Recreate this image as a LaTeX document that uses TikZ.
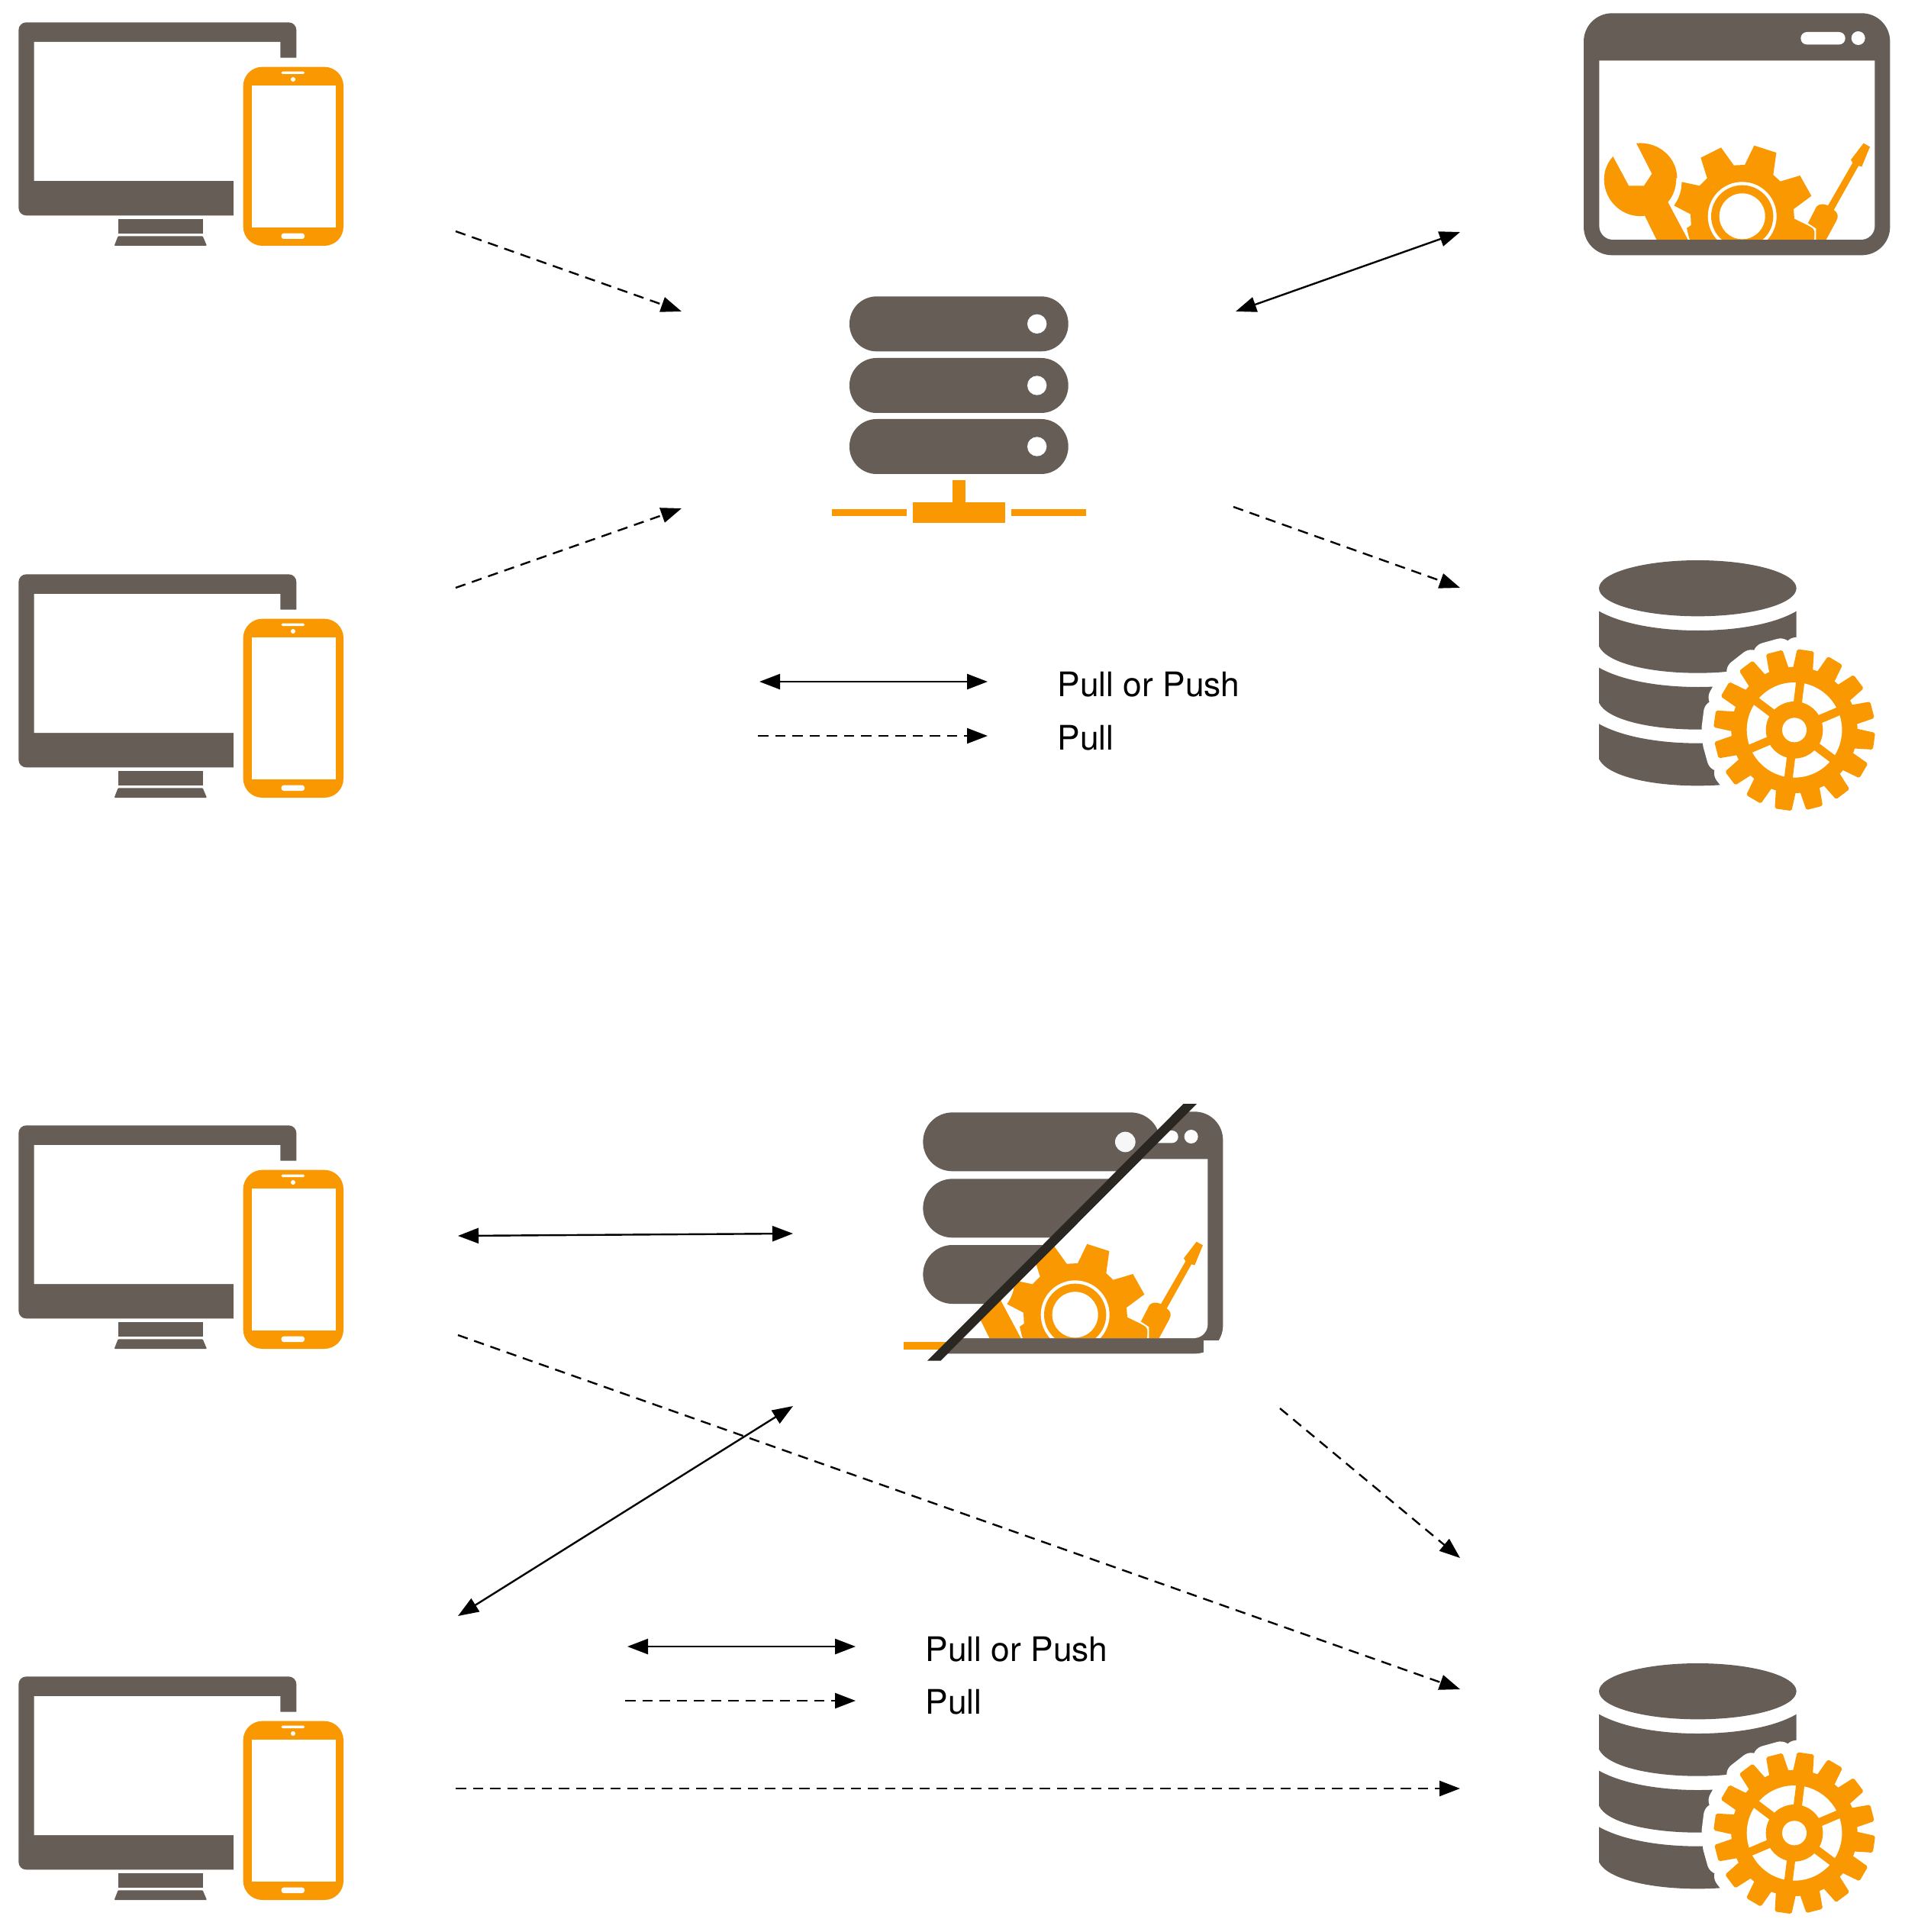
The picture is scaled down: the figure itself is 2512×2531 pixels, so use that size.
\documentclass[tikz,border=0pt]{standalone}
\usepackage{fontspec}
\setmainfont{TeX Gyre Heros}
\usetikzlibrary{arrows.meta}
\definecolor{stone}{HTML}{665E56}
\definecolor{amber}{HTML}{FA9802}
\definecolor{slash}{HTML}{2A2622}
\tikzset{
  x=0.01cm,y=-0.01cm,
  zoomed/.style={scale=0.33333},
  bothway/.style={line width=.024cm,black,{Triangle[length=.27cm,width=.2cm]}-{Triangle[length=.27cm,width=.2cm]}},
  oneway/.style={line width=.024cm,black,dash pattern=on .135cm off .09cm,-{Triangle[length=.27cm,width=.2cm]}},
  legend/.style={anchor=west,inner sep=0pt,font=\fontsize{12.6pt}{15pt}\selectfont},
  device/.pic={
    \begin{scope}[zoomed]
      \fill[stone,rounded corners=.1cm] (73,88) rectangle (1165,847);
      \fill[white] (134,165) -- (1102,165) -- (1102,227) -- (1175,227) -- (1175,855) -- (918,855) -- (918,711) -- (134,711) -- cycle;
      \fill[stone] (464,861) rectangle (797,919);
      \fill[stone,rounded corners=.01cm] (464,928) -- (797,928) -- (813,966) -- (449,966) -- cycle;
      \fill[amber,rounded corners=.25cm] (956,263) rectangle (1350,966);
      \fill[white] (990,337) rectangle (1319,893);
      \fill[white,rounded corners=.015cm] (1106,281) rectangle (1197,291);
      \fill[white] (1152,312) circle (9);
      \fill[white,rounded corners=.03cm] (1106,917) rectangle (1197,939);
    \end{scope}
  },
  server/.pic={
    \begin{scope}[zoomed]
      \foreach \t in {85,327,567}{
        \fill[stone,rounded corners=.355cm] (159,\t) rectangle (1019,\t+216);
        \fill[white] (896,\t+108) circle (38);
      }
      \fill[amber] (565,808) rectangle (615,895);
      \fill[amber] (407,895) rectangle (772,975);
      \fill[amber] (90,920) rectangle (383,947);
      \fill[amber] (795,920) rectangle (1088,947);
    \end{scope}
  },
  windowicon/.pic={
    \begin{scope}[zoomed]
      \fill[stone,rounded corners=.37cm] (105,52) rectangle (1309,1003);
      \fill[white] (166,238) -- (1249,238) -- (1249,888) arc[start angle=0,end angle=90,radius=54] -- (220,942) arc[start angle=90,end angle=180,radius=54] -- cycle;
      \begin{scope}
        \clip (166,238) rectangle (1249,941);
        % gear
        \fill[amber] (565,620) -- (645,580) -- (695,650) -- (738,648) -- (775,572) -- (862,600) -- (850,687) -- (878,713) -- (955,690) -- (1000,770) -- (930,822) -- (933,860) -- (1005,895) -- (1015,915) -- (1008,960) -- (525,960) -- (510,897) -- (527,885) -- (525,842) -- (460,808) .. controls (480,780) and (490,750) .. (490,715) -- (560,730) -- (590,700) -- cycle;
        \fill[white] (728,850) circle (135);
        \fill[amber] (728,850) circle (122);
        \fill[white] (728,850) circle (90);
        % wrench
        \fill[amber] (312,563) .. controls (400,555) and (472,620) .. (472,700) .. controls (472,740) and (460,770) .. (440,795) -- (528,960) -- (400,960) -- (345,848) .. controls (260,860) and (185,790) .. (185,705) .. controls (185,670) and (198,640) .. (220,615) -- (282,730) -- (342,730) -- (373,683) -- cycle;
        \draw[white,line width=.02cm] (472,700) .. controls (472,740) and (460,770) .. (440,795) -- (528,960);
        % screwdriver
        \fill[amber] (1205,563) -- (1230,577) -- (1198,655) -- (1185,652) -- (1088,825) .. controls (1103,835) and (1108,850) .. (1098,868) -- (1048,960) -- (1015,960) -- (1015,900) -- (985,880) -- (1020,812) .. controls (1030,800) and (1050,800) .. (1065,808) -- (1162,640) -- (1155,628) -- cycle;
        \draw[white,line width=.02cm] (985,880) -- (1015,900) -- (1015,960);
      \end{scope}
      \fill[white,rounded corners=.08cm] (958,126) rectangle (1133,175);
      \fill[white] (1184,150) circle (27);
    \end{scope}
  },
  dbicon/.pic={
    \begin{scope}[zoomed]
      \fill[stone] (493,182) ellipse [x radius=388,y radius=110];
      \foreach \d in {0,222,443}{
        \fill[stone] (105,272+\d) .. controls (200,325+\d) and (350,348+\d) .. (493,348+\d) .. controls (640,348+\d) and (790,325+\d) .. (881,272+\d) -- (881,410+\d) .. controls (850,475+\d) and (680,515+\d) .. (493,515+\d) .. controls (300,515+\d) and (135,475+\d) .. (105,410+\d) -- cycle;
      }
      \begin{scope}[shift={(873,739)}]
        \fill[white] (0,0) circle (325);
        \foreach \a in {-83,-60.5,...,274}{
          \draw[white,line width=.33cm,line join=round] (\a-9:240) -- (\a-5.5:315) -- (\a+5.5:315) -- (\a+9:240);
        }
        \fill[amber] (0,0) circle (248);
        \foreach \a in {-82,-59.5,...,275}{
          \fill[amber,rounded corners=.02cm] (\a-9.5:240) -- (\a-6:318) -- (\a+6:318) -- (\a+9.5:240) -- cycle;
        }
        \fill[white] (0,0) circle (187);
        \foreach \a in {-83,-23,37,97,157,217}{
          \draw[amber,line width=.11cm] (0,0) -- (\a:200);
        }
        \fill[amber] (0,0) circle (112);
        \fill[white] (0,0) circle (48);
      \end{scope}
    \end{scope}
  },
  splitoverlay/.pic={
    \begin{scope}[zoomed]
      \fill[white] (1198,70) -- (191,1095) -- (60,1095) -- (60,70) -- cycle;
      \begin{scope}
        \clip (1198,78) -- (191,1088) -- (60,1088) -- (60,78) -- cycle;
        \fill[amber] (72,1014) rectangle (260,1043);
        \foreach \t in {112,373,633}{
          \fill[stone,rounded corners=.385cm] (148,\t) rectangle (1080,\t+231);
        }
        \fill[white!95!stone] (943,228) circle (40);
      \end{scope}
      \fill[slash] (1172,78) -- (1224,78) -- (217,1088) -- (165,1088) -- cycle;
      \fill[white] (1251,1008) rectangle (1312,1070);
    \end{scope}
  },
}
\begin{document}
\begin{tikzpicture}
\useasboundingbox (0,0) rectangle (2512,2531);
\pic (d1) at (0,0) {device};
\pic (d2) at (0,723) {device};
\pic (d3) at (0,1445) {device};
\pic (d4) at (0,2167) {device};
\pic (srv) at (1060,360) {server};
\pic (win) at (2040,0) {windowicon};
\pic (db1) at (2060,710) {dbicon};
\pic (win2) at (1166,1439) {windowicon};
\pic (split) at (1160,1420) {splitoverlay};
\pic (db2) at (2060,2155) {dbicon};
% connector ends
\coordinate (a1) at (597,303);  \coordinate (a2) at (893,408);
\coordinate (b1) at (597,770);  \coordinate (b2) at (893,666);
\coordinate (c1) at (1913,304); \coordinate (c2) at (1619,408);
\coordinate (e1) at (1616,664); \coordinate (e2) at (1913,770);
\coordinate (f1) at (995,893);  \coordinate (f2) at (1294,893);
\coordinate (g1) at (993,964);  \coordinate (g2) at (1294,964);
\coordinate (h1) at (600,1619); \coordinate (h2) at (1039,1616);
\coordinate (i1) at (600,1749); \coordinate (i2) at (1913,2213);
\coordinate (j1) at (600,2117); \coordinate (j2) at (1039,1842);
\coordinate (k1) at (1677,1845);\coordinate (k2) at (1913,2041);
\coordinate (l1) at (822,2157); \coordinate (l2) at (1121,2157);
\coordinate (m1) at (819,2228); \coordinate (m2) at (1121,2228);
\coordinate (n1) at (597,2343); \coordinate (n2) at (1913,2343);
\draw[oneway] (a1) -- (a2);
\draw[oneway] (b1) -- (b2);
\draw[bothway] (c1) -- (c2);
\draw[oneway] (e1) -- (e2);
\draw[bothway] (f1) -- (f2);
\draw[oneway] (g1) -- (g2);
\draw[bothway] (h1) -- (h2);
\draw[oneway] (i1) -- (i2);
\draw[bothway] (j1) -- (j2);
\draw[oneway] (k1) -- (k2);
\draw[bothway] (l1) -- (l2);
\draw[oneway] (m1) -- (m2);
\draw[oneway] (n1) -- (n2);
\node[legend] (t1) at (1385,897) {Pull or Push};
\node[legend] (t2) at (1385,967) {Pull};
\node[legend] (t3) at (1212,2161) {Pull or Push};
\node[legend] (t4) at (1212,2230) {Pull};
\end{tikzpicture}
\end{document}
